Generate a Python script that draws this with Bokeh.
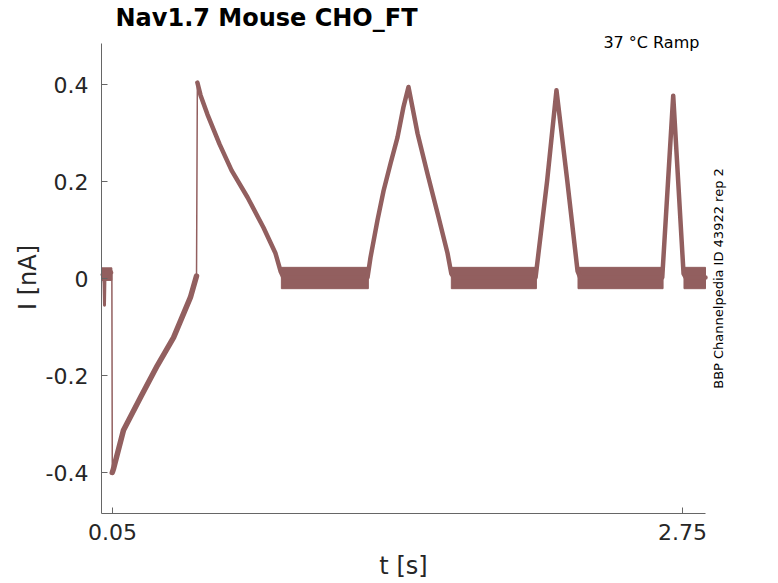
from math import pi
from bokeh.plotting import figure
from bokeh.models import Range1d, FixedTicker, Label, ColumnDataSource, InlineStyleSheet
from bokeh.embed import file_html
from bokeh.resources import INLINE

# ---- data ----
# mean current trace (time in s, current in nA)
t_s = [0.000, 0.006, 0.010, 0.012, 0.014, 0.020, 0.030, 0.040, 0.047,
       0.049, 0.055, 0.102, 0.183, 0.263, 0.339, 0.419, 0.448,
       0.452, 0.467, 0.500, 0.557, 0.614, 0.690, 0.765, 0.822, 0.846, 0.860,
       1.258, 1.272, 1.305, 1.334, 1.367, 1.400, 1.428, 1.452,
       1.495, 1.542, 1.590, 1.637, 1.655, 1.668,
       2.054, 2.109, 2.153, 2.204, 2.253, 2.265,
       2.654, 2.706, 2.755, 2.765, 2.859]
i_nA = [0.008, 0.012, -0.010, -0.055, -0.005, 0.015, 0.010, 0.018, 0.012,
        -0.400, -0.392, -0.313, -0.245, -0.179, -0.122, -0.039, 0.005,
        0.404, 0.378, 0.338, 0.277, 0.223, 0.167, 0.105, 0.052, 0.015, 0.002,
        0.002, 0.043, 0.120, 0.181, 0.237, 0.291, 0.353, 0.395,
        0.299, 0.216, 0.134, 0.052, 0.010, 0.002,
        0.002, 0.202, 0.388, 0.202, 0.015, 0.002,
        0.002, 0.377, 0.010, 0.002, 0.002]
# indices where the trace jumps instantaneously (thin vertical steps)
jump_at = [9, 17]

# noise envelope on the flat (holding) parts of the sweep
noise_t0 = [0.000, 0.850, 1.655, 2.255, 2.757]
noise_t1 = [0.047, 1.262, 2.058, 2.658, 2.859]
noise_lo = [-0.004, -0.021, -0.021, -0.021, -0.021]
noise_hi = [0.022, 0.023, 0.023, 0.023, 0.023]

x_ticks = [0.05, 2.75]
x_tick_labels = ["0.05", "2.75"]
y_ticks = [-0.4, -0.2, 0, 0.2, 0.4]
y_tick_labels = ["-0.4", "-0.2", "0", "0.2", "0.4"]

title_text = "Nav1.7  Mouse  CHO_FT"
cond_text = "37 °C  Ramp"
id_text = "BBP Channelpedia ID 43922 rep 2"
x_label = "t [s]"
y_label = "I [nA]"

# ---- styling / layout ----
TRACE = "#925f5f"
AXC = "#666666"
TXT = "#262626"
FONT = "DejaVu Sans"
W, H = 776, 581

# pixel <-> data calibration of the reference axes
xs_per_px = (2.75 - 0.05) / 570.0
ys_per_px = 0.4 / 194.0


def px_x(px):
    return 0.05 + (px - 112) * xs_per_px


def px_y(py):
    return (278 - py) * ys_per_px


AX_L, AX_R, AX_T, AX_B = 101, 705, 43, 513
BL = 0.38  # baseline correction (fraction of font size)

p = figure(width=W, height=H,
           x_range=Range1d(px_x(0), px_x(W)), y_range=Range1d(px_y(H), px_y(0)),
           output_backend="svg", toolbar_location=None,
           min_border_left=0, min_border_right=0, min_border_top=0, min_border_bottom=0)
# keep the double spaces of the texts (inherited into the canvas shadow tree)
p.stylesheets = [InlineStyleSheet(css=":host { white-space: pre; } text { white-space: pre; }")]
p.title.visible = False
p.outline_line_color = None
p.grid.grid_line_color = None
p.background_fill_color = "white"
p.border_fill_color = "white"

for ax in (p.xaxis[0], p.yaxis[0]):
    ax.axis_line_color = AXC
    ax.major_tick_line_color = AXC
    ax.minor_tick_line_color = None
    ax.major_tick_in = 6
    ax.major_tick_out = 0
    ax.major_label_text_font = FONT
    ax.major_label_text_font_size = "22px"
    ax.major_label_text_color = TXT

p.xaxis.ticker = FixedTicker(ticks=x_ticks)
p.xaxis.major_label_overrides = {v: s for v, s in zip(x_ticks, x_tick_labels)}
p.xaxis.major_label_standoff = 10
p.xaxis.fixed_location = px_y(AX_B)
p.xaxis.bounds = (px_x(AX_L), px_x(AX_R))

p.yaxis.ticker = FixedTicker(ticks=y_ticks)
p.yaxis.major_label_overrides = {v: s for v, s in zip(y_ticks, y_tick_labels)}
p.yaxis.major_label_standoff = 13
p.yaxis.fixed_location = px_x(AX_L)
p.yaxis.bounds = (px_y(AX_B), px_y(AX_T))

# noise bands
p.quad(left=noise_t0, right=noise_t1, bottom=noise_lo, top=noise_hi,
       fill_color=TRACE, line_color=TRACE, line_width=1)

# thin full trace (includes the instantaneous steps)
p.line(t_s, i_nA, line_color=TRACE, line_width=1.5)

# thick bundle of sweeps on the continuous parts
bounds = [0] + jump_at + [len(t_s)]
xs, ys = [], []
for a, b in zip(bounds[:-1], bounds[1:]):
    xs.append(t_s[a:b])
    ys.append(i_nA[a:b])
widths = [3, 5.5, 4.5]
src = ColumnDataSource(dict(xs=xs, ys=ys, w=widths))
p.multi_line("xs", "ys", source=src, line_color=TRACE, line_width="w",
             line_join="round", line_cap="round")


def add_text(text, px, py, size, color, align="left", angle=0.0, bold=False):
    if angle:
        px = px - BL * size
    else:
        py = py - BL * size
    p.add_layout(Label(x=px_x(px), y=px_y(py), text=text, text_font=FONT,
                       text_font_style="bold" if bold else "normal",
                       text_font_size=f"{size}px", text_color=color, angle=angle,
                       text_align=align, text_baseline="alphabetic"))


add_text(title_text, 115, 27, 24, "black", bold=True)
add_text(cond_text, 704, 48, 16, "black", align="right")
add_text(id_text, 722.5, 278, 13, "black", align="center", angle=pi / 2)
add_text(x_label, 403, 575, 24, TXT, align="center")
add_text(y_label, 37, 277, 24, TXT, align="center", angle=pi / 2)

open("out.html", "w").write(file_html(p, INLINE))
